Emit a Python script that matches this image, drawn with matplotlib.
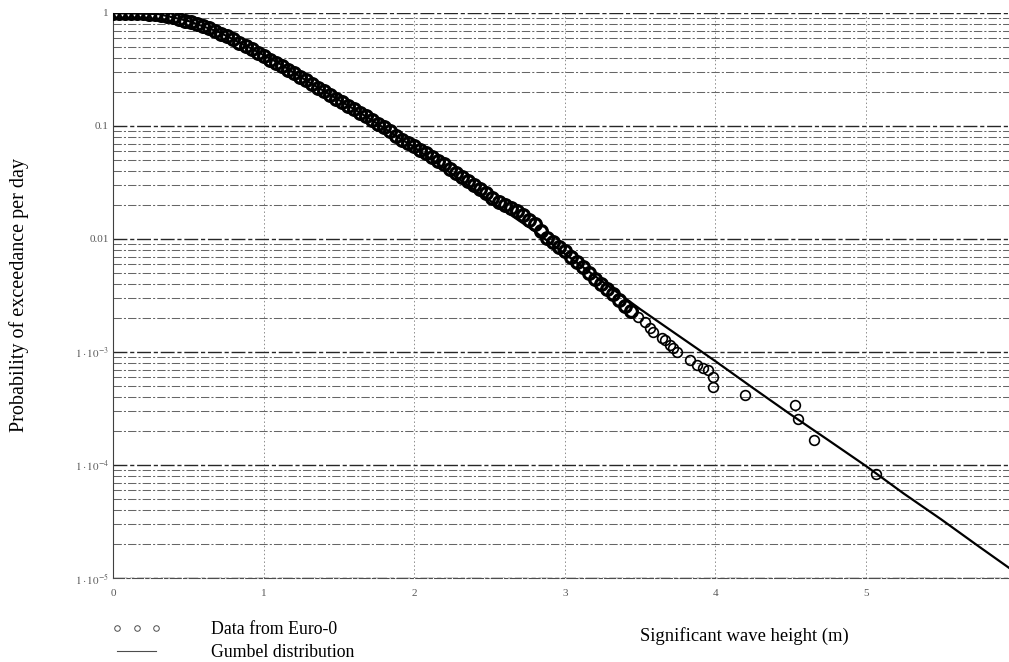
import matplotlib
matplotlib.use("Agg")
import matplotlib.pyplot as plt
from matplotlib.lines import Line2D
from matplotlib.ticker import LogLocator, FixedLocator, FixedFormatter, NullFormatter

plt.rcParams['font.family'] = ['Liberation Serif', 'DejaVu Serif']
plt.rcParams['mathtext.fontset'] = 'stix'

# Euro-0 data: significant wave height (m) and probability of exceedance per day
data_hs = [0.00, 0.04, 0.08, 0.12, 0.16, 0.20, 0.24, 0.28, 0.32, 0.36, 0.40, 0.44,
           0.48, 0.52, 0.56, 0.60, 0.64, 0.68, 0.72, 0.76, 0.80, 0.84, 0.88, 0.92,
           0.96, 1.00, 1.04, 1.08, 1.12, 1.16, 1.20, 1.24, 1.28, 1.32, 1.36, 1.40,
           1.44, 1.48, 1.52, 1.56, 1.60, 1.64, 1.68, 1.72, 1.76, 1.80, 1.84, 1.88,
           1.92, 1.96, 2.00, 2.04, 2.08, 2.12, 2.16, 2.20, 2.24, 2.28, 2.32, 2.36,
           2.40, 2.44, 2.48, 2.52, 2.56, 2.60, 2.64, 2.68, 2.72, 2.76, 2.80, 2.84,
           2.88, 2.92, 2.96, 3.00, 3.04, 3.08, 3.12, 3.16, 3.20, 3.24, 3.28, 3.32,
           3.36, 3.40, 3.44,
           3.486, 3.533, 3.566, 3.586, 3.645, 3.665, 3.699, 3.718, 3.745, 3.831,
           3.878, 3.918, 3.951, 3.984, 3.984, 4.197, 4.529, 4.548, 4.655, 5.066]
data_p = [1.0, 1.0, 1.0, 0.995, 0.993, 0.991, 0.986, 0.982, 0.966, 0.944, 0.918, 0.887,
          0.855, 0.832, 0.804, 0.773, 0.738, 0.695, 0.653, 0.624, 0.592, 0.547, 0.511, 0.476,
          0.447, 0.417, 0.387, 0.361, 0.337, 0.314, 0.292, 0.272, 0.253, 0.235, 0.218, 0.202,
          0.188, 0.175, 0.162, 0.151, 0.140, 0.131, 0.122, 0.113, 0.105, 0.0977, 0.0902, 0.0813,
          0.0759, 0.0708, 0.0661, 0.0617, 0.0575, 0.0537, 0.0495, 0.0457, 0.0417, 0.0385, 0.0355, 0.0327,
          0.0302, 0.0275, 0.0254, 0.0232, 0.0214, 0.0200, 0.0188, 0.0176, 0.0162, 0.0148, 0.0135, 0.0117,
          0.0102, 0.00933, 0.00851, 0.00776, 0.00692, 0.00624, 0.00562, 0.00501, 0.00447, 0.00403, 0.00363, 0.00324,
          0.00288, 0.00257, 0.00229,
          2.04e-3, 1.84e-3, 1.63e-3, 1.50e-3, 1.33e-3, 1.28e-3, 1.15e-3, 1.08e-3, 1.00e-3, 8.5e-4,
          7.7e-4, 7.2e-4, 6.9e-4, 6.0e-4, 4.9e-4, 4.16e-4, 3.4e-4, 2.55e-4, 1.66e-4, 8.3e-5]
n_dense = 87  # the densely packed part of the sample (solid band)

# Gumbel distribution curve
gumbel_hs = [0.0, 0.3, 0.5, 0.7, 0.9, 1.1, 1.3, 1.5, 1.7, 1.9, 2.0, 2.2, 2.4, 2.6, 2.8,
             3.0, 3.25, 3.5, 3.75, 4.0, 4.25, 4.5, 4.75, 5.0, 5.25, 5.5, 5.75, 5.95]
gumbel_p = [1.0, 0.98, 0.85, 0.68, 0.50, 0.36, 0.245, 0.17, 0.117, 0.0785, 0.065, 0.042,
            0.0272, 0.0178, 0.0117, 0.0074, 0.0042, 0.0024, 1.41e-3, 8.3e-4, 4.8e-4, 2.8e-4,
            1.66e-4, 9.8e-5, 5.6e-5, 3.3e-5, 1.9e-5, 1.23e-5]

x_ticks = [0, 1, 2, 3, 4, 5]
x_tick_labels = ['0', '1', '2', '3', '4', '5']
y_ticks = [1e-5, 1e-4, 1e-3, 1e-2, 1e-1, 1]
y_tick_labels = [r'$1\cdot10^{-5}$', r'$1\cdot10^{-4}$', r'$1\cdot10^{-3}$', '0.01', '0.1', '1']

W, H = 1009, 662
fig = plt.figure(figsize=(W / 100, H / 100), dpi=100)
ax = fig.add_axes([113 / W, 1 - 578 / H, 1 - 113 / W, (578 - 13) / H])
ax.set_yscale('log')
ax.set_xlim(0, 5.95)
ax.set_ylim(1e-5, 1)

ax.yaxis.set_major_locator(FixedLocator(y_ticks))
ax.yaxis.set_major_formatter(FixedFormatter(y_tick_labels))
ax.yaxis.set_minor_locator(LogLocator(base=10, subs=range(2, 10), numticks=20))
ax.yaxis.set_minor_formatter(NullFormatter())
ax.xaxis.set_major_locator(FixedLocator(x_ticks))
ax.xaxis.set_major_formatter(FixedFormatter(x_tick_labels))

ax.grid(True, which='major', axis='y', color='0.15', lw=1.0, ls=(0, (10, 2, 3, 2)))
ax.grid(True, which='minor', axis='y', color='0.4', lw=0.75, ls=(0, (8, 2, 2, 2)))
ax.grid(True, which='major', axis='x', color='0.55', lw=0.7, ls=(0, (1.5, 2.5)))
ax.set_axisbelow(True)

for s in ['top', 'right']:
    ax.spines[s].set_visible(False)
ax.spines['left'].set_color('0.25')
ax.spines['left'].set_linewidth(0.8)
ax.spines['left'].set_linestyle((0, (4, 1)))
ax.spines['bottom'].set_color('0.3')
ax.spines['bottom'].set_linewidth(0.8)
ax.spines['bottom'].set_linestyle((0, (10, 2, 3, 2)))

ax.tick_params(axis='both', which='both', length=0, labelsize=8, labelcolor='0.35')
ax.tick_params(axis='x', pad=8)
ax.tick_params(axis='y', pad=3)

ax.plot(gumbel_hs, gumbel_p, color='black', lw=1.6, zorder=3)
ax.plot(data_hs[:n_dense], data_p[:n_dense], ls='none', marker='o', ms=8.5, mfc='none',
        mec='black', mew=2.3, zorder=4)
ax.plot(data_hs[n_dense:], data_p[n_dense:], ls='none', marker='o', ms=7, mfc='none',
        mec='black', mew=1.2, zorder=4)

ax.set_ylabel('Probability of exceedance per day', fontsize=14.5)
ax.yaxis.set_label_coords(-0.094, 0.5)
ax.set_xlabel('Significant wave height (m)', fontsize=13.4)
ax.xaxis.set_label_coords(0.705, -0.087)

h_data = Line2D([], [], ls='none', marker='o', ms=4, mfc='none', mec='0.3', mew=0.7)
h_line = Line2D([], [], color='0.3', lw=0.8)
leg = fig.legend([h_data, h_line], ['Data from Euro-0', 'Gumbel distribution'],
                 loc='upper left', bbox_to_anchor=(112 / W, 1 - 621 / H),
                 frameon=False, fontsize=12.8, numpoints=3, handlelength=2.8,
                 handletextpad=2.75, labelspacing=0.35, borderaxespad=0, borderpad=0)

fig.savefig('out.png', dpi=100)
